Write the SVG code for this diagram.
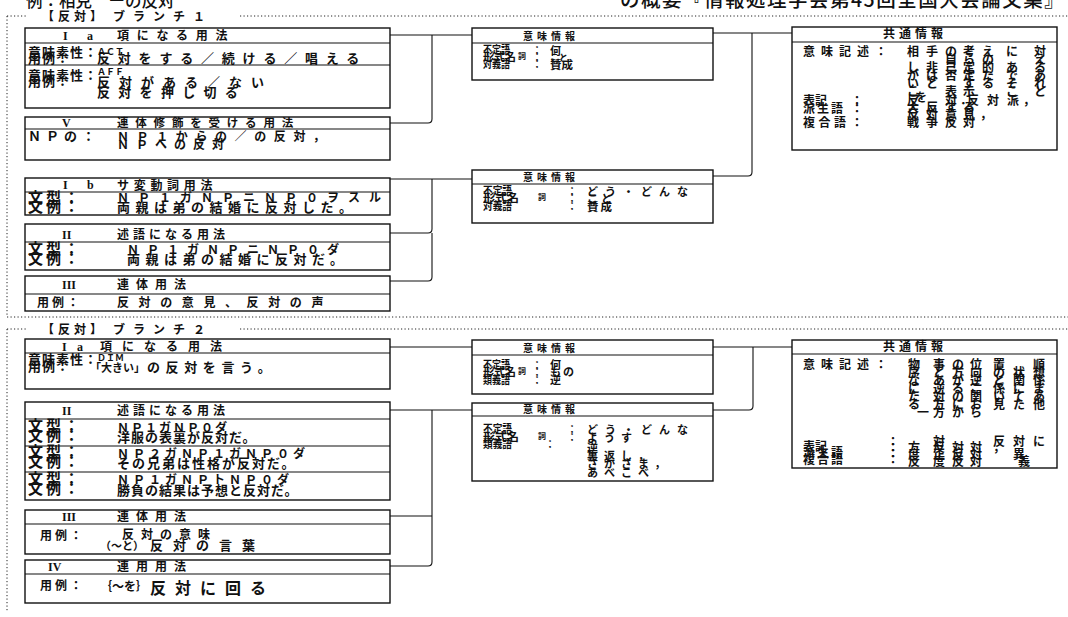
<svg xmlns="http://www.w3.org/2000/svg" width="1068" height="617" viewBox="0 0 1068 617">
<style>
.bx{fill:#fff;stroke:#111;stroke-width:1.4}
.dv{fill:none;stroke:#111;stroke-width:1.2}
.ln{fill:none;stroke:#111;stroke-width:1.1}
.dt{fill:none;stroke:#222;stroke-width:1;stroke-dasharray:1.2 2.3}
text{font-family:"Noto Sans CJK JP","Noto Sans",sans-serif;font-weight:700;fill:#111}
text.r{font-family:"Liberation Serif",serif}
text.h{font-weight:500}
</style>
<rect width="1068" height="617" fill="#fff"/>

<g id="header">
<text class="h" x="26" y="7" font-size="16.5">例：相克　ーの反対</text>
<text class="h" x="620" y="7" font-size="19.5" letter-spacing="1.5">の概要『情報処理学会第45回全国大会論文集』</text>
</g>

<g id="frames">
<path class="dt" d="M7,16 H27 M240,16 H1068 M7,16 V317 M7,317 H1068 M7,329 H27 M240,329 H1068 M7,329 V612"/>
<text x="42" y="21" font-size="12" letter-spacing="4">【反対】</text>
<text x="113" y="21" font-size="12" letter-spacing="8">ブランチ１</text>
<text x="42" y="334" font-size="12" letter-spacing="4">【反対】</text>
<text x="113" y="334" font-size="12" letter-spacing="8">ブランチ２</text>
</g>

<g id="connectors">
<path class="ln" d="M390,35 H472"/>
<path class="ln" d="M390,123 H428 Q432,123 432,119 V35"/>
<path class="ln" d="M390,179 H472"/>
<path class="ln" d="M390,233 H428 Q432,233 432,229 V179"/>
<path class="ln" d="M390,281 H428 Q432,281 432,277 V233"/>
<path class="ln" d="M713,33 H792"/>
<path class="ln" d="M713,176 H748 Q752,176 752,172 V33"/>
<path class="ln" d="M390,347 H472"/>
<path class="ln" d="M390,410 H472"/>
<path class="ln" d="M390,516 H432"/>
<path class="ln" d="M390,566 H428 Q432,566 432,562 V410"/>
<path class="ln" d="M713,347 H792"/>
<path class="ln" d="M713,410 H749 Q753,410 753,406 V347"/>
</g>

<!-- Branch 1 -->
<g id="b1-Ia">
<rect class="bx" x="25" y="28" width="365" height="80"/>
<path class="dv" d="M25,43 H390 M25,65 H390"/>
<text class="r" x="63" y="40" font-size="12">I</text>
<text class="r" x="87" y="40" font-size="12">a</text>
<text x="117" y="40" font-size="12" letter-spacing="7.7">項になる用法</text>
<text x="28" y="57" font-size="13" letter-spacing="1">意味素性：</text>
<text x="97" y="55" font-size="9">ＡＣＴ</text>
<text x="28" y="63" font-size="13" letter-spacing="1">用例：</text>
<text x="97" y="63" font-size="13" letter-spacing="7.8">反対をする／続ける／唱える</text>
<text x="28" y="80" font-size="13" letter-spacing="1">意味素性：</text>
<text x="97" y="75" font-size="9">ＡＦＦ</text>
<text x="28" y="86" font-size="13" letter-spacing="1">用例：</text>
<text x="97" y="87" font-size="13" letter-spacing="9">反対がある／ない</text>
<text x="97" y="97" font-size="13" letter-spacing="8.3">反対を押し切る</text>
</g>

<g id="b1-V">
<rect class="bx" x="25" y="117" width="365" height="43"/>
<path class="dv" d="M25,129 H390"/>
<text class="r" x="62" y="127" font-size="12">V</text>
<text x="117" y="127" font-size="11.5" letter-spacing="6.8">連体修飾を受ける用法</text>
<text x="28" y="141" font-size="13" letter-spacing="5">ＮＰの：</text>
<text x="117" y="141" font-size="12" letter-spacing="7.6">ＮＰ１からの／の反対，</text>
<text x="117" y="149" font-size="12" letter-spacing="7">ＮＰへの反対</text>
</g>

<g id="b1-Ib">
<rect class="bx" x="25" y="178" width="365" height="37"/>
<path class="dv" d="M25,192 H390"/>
<text class="r" x="63" y="189" font-size="12">I</text>
<text class="r" x="87" y="189" font-size="12">b</text>
<text x="117" y="190" font-size="12" letter-spacing="4.7">サ変動詞用法</text>
<text x="28" y="203" font-size="15" letter-spacing="3">文型：</text>
<text x="28" y="212" font-size="15" letter-spacing="3">文例：</text>
<text x="117" y="202" font-size="12" letter-spacing="9">ＮＰ１ガＮＰニＮＰ０ヲスル</text>
<text x="117" y="212" font-size="13" letter-spacing="5.5">両親は弟の結婚に反対した。</text>
</g>

<g id="b1-II">
<rect class="bx" x="25" y="224" width="365" height="46"/>
<path class="dv" d="M25,242 H390"/>
<text class="r" x="62" y="239" font-size="12">II</text>
<text x="117" y="239" font-size="12" letter-spacing="4">述語になる用法</text>
<text x="28" y="254" font-size="15" letter-spacing="3">文型：</text>
<text x="28" y="264" font-size="15" letter-spacing="3">文例：</text>
<text x="127" y="254" font-size="12" letter-spacing="8">ＮＰ１ガＮＰニＮＰ０ダ</text>
<text x="127" y="264" font-size="13" letter-spacing="5.5">両親は弟の結婚に反対だ。</text>
</g>

<g id="b1-III">
<rect class="bx" x="25" y="276" width="365" height="35"/>
<path class="dv" d="M25,294 H390"/>
<text class="r" x="62" y="289" font-size="12">III</text>
<text x="117" y="289" font-size="12" letter-spacing="7">連体用法</text>
<text x="37" y="307" font-size="12" letter-spacing="3">用例：</text>
<text x="117" y="307" font-size="12" letter-spacing="9.6">反対の意見、反対の声</text>
</g>

<g id="b1-MI1">
<rect class="bx" x="472" y="28" width="241" height="52"/>
<path class="dv" d="M472,43 H713"/>
<text x="523" y="40" font-size="10" letter-spacing="4">意味情報</text>
<text x="483" y="54" font-size="11" textLength="27" lengthAdjust="spacingAndGlyphs">不定語</text>
<text x="483" y="61" font-size="11" textLength="33" lengthAdjust="spacingAndGlyphs">形式名</text>
<text x="518" y="59" font-size="8">詞</text>
<text x="483" y="68" font-size="11" textLength="27" lengthAdjust="spacingAndGlyphs">対義語</text>
<text x="532" y="54" font-size="10">：</text>
<text x="532" y="61" font-size="10">：</text>
<text x="532" y="68" font-size="10">：</text>
<text x="550" y="55" font-size="11">何</text>
<text x="550" y="61" font-size="9">こと</text>
<text x="550" y="69" font-size="11.5">賛成</text>
</g>

<g id="b1-MI2">
<rect class="bx" x="472" y="170" width="241" height="53"/>
<path class="dv" d="M472,184 H713"/>
<text x="523" y="181" font-size="10" letter-spacing="4">意味情報</text>
<text x="483" y="195" font-size="11" textLength="29" lengthAdjust="spacingAndGlyphs">不定語</text>
<text x="483" y="202" font-size="11" textLength="36" lengthAdjust="spacingAndGlyphs">形式名</text>
<text x="538" y="200" font-size="8">詞</text>
<text x="483" y="210" font-size="11" textLength="29" lengthAdjust="spacingAndGlyphs">対義語</text>
<text x="567" y="195" font-size="10">：</text>
<text x="567" y="202" font-size="10">：</text>
<text x="567" y="210" font-size="10">：</text>
<text x="587" y="196" font-size="11" letter-spacing="7">どう・どんな</text>
<text x="587" y="203" font-size="11" letter-spacing="3">こと</text>
<text x="587" y="211" font-size="11.5" letter-spacing="2">賛成</text>
</g>

<g id="b1-K">
<rect class="bx" x="792" y="27" width="265" height="123"/>
<path class="dv" d="M792,42 H1057"/>
<text x="883" y="38" font-size="12" letter-spacing="4">共通情報</text>
<text x="803" y="56" font-size="12" letter-spacing="6">意味記述：</text>
<g font-size="12">
<text x="907 926 945 963 982 1006 1034" y="56">相手の考えに対</text>
<text x="945 963 982 1034" y="64">自らのえ</text>
<text x="907 926 945 963 982 1006 1034" y="72">し非己定的ある</text>
<text x="907 926 945 963 982 1006 1034" y="80">がは否定たであ</text>
<text x="907 926 963 982 1006 1034" y="88">いとするそれ</text>
<text x="907 945 963 1006 1034" y="96">こ表示こと</text>
<text x="915" y="102">を</text>
</g>
<text x="803" y="105" font-size="12">表記</text>
<text x="803" y="113" font-size="12" letter-spacing="2">派生語</text>
<text x="803" y="127" font-size="12" letter-spacing="3.5">複合語</text>
<text x="851" y="105" font-size="12">：</text>
<text x="851" y="113" font-size="12">：</text>
<text x="851" y="127" font-size="12">：</text>
<g font-size="12">
<text x="907 945 960 967 987 1007 1023" y="105">反対．反対派，</text>
<text x="907 926 945 963" y="112">大反する</text>
<text x="907 926 945 963 980" y="119">反対意見，</text>
<text x="907 926 945 963" y="127">戦争反対</text>
</g>
</g>

<!-- Branch 2 -->
<g id="b2-Ia">
<rect class="bx" x="25" y="339" width="365" height="50"/>
<path class="dv" d="M25,353 H390"/>
<text class="r" x="62" y="351" font-size="12">I</text>
<text class="r" x="77" y="351" font-size="12">a</text>
<text x="100" y="351" font-size="12" letter-spacing="10">項になる用法</text>
<text x="28" y="364" font-size="13" letter-spacing="1">意味素性：</text>
<text x="97" y="361" font-size="9">ＤＩＭ</text>
<text x="28" y="371" font-size="13" letter-spacing="1">用例：</text>
<text x="90" y="372" font-size="11">「大きい」</text>
<text x="147" y="372" font-size="13" letter-spacing="5.6">の反対を言う。</text>
</g>

<g id="b2-II">
<rect class="bx" x="25" y="402" width="365" height="98"/>
<path class="dv" d="M25,419 H390 M25,446 H390 M25,472 H390"/>
<text class="r" x="62" y="415" font-size="12">II</text>
<text x="117" y="415" font-size="12" letter-spacing="4">述語になる用法</text>
<text x="28" y="431" font-size="15" letter-spacing="3">文型：</text>
<text x="28" y="441" font-size="15" letter-spacing="3">文例：</text>
<text x="117" y="432" font-size="12" letter-spacing="2">ＮＰ１ガＮＰ０ダ</text>
<text x="117" y="442" font-size="13" letter-spacing="1">洋服の表裏が反対だ。</text>
<text x="28" y="457" font-size="15" letter-spacing="3">文型：</text>
<text x="28" y="467" font-size="15" letter-spacing="3">文例：</text>
<text x="117" y="458" font-size="12" letter-spacing="4">ＮＰ２ガＮＰ１ガＮＰ０ダ</text>
<text x="117" y="468" font-size="13" letter-spacing="2">その兄弟は性格が反対だ。</text>
<text x="28" y="484" font-size="15" letter-spacing="3">文型：</text>
<text x="28" y="494" font-size="15" letter-spacing="3">文例：</text>
<text x="117" y="484" font-size="12" letter-spacing="4">ＮＰ１ガＮＰトＮＰ０ダ</text>
<text x="117" y="495" font-size="13" letter-spacing="1">勝負の結果は予想と反対だ。</text>
</g>

<g id="b2-III">
<rect class="bx" x="25" y="510" width="365" height="44"/>
<path class="dv" d="M25,524 H390"/>
<text class="r" x="62" y="521" font-size="12">III</text>
<text x="117" y="521" font-size="12" letter-spacing="7">連体用法</text>
<text x="40" y="540" font-size="12" letter-spacing="3">用例：</text>
<text x="122" y="539" font-size="12" letter-spacing="7">反対の意味</text>
<text x="100" y="550" font-size="11">（～と）</text>
<text x="150" y="550" font-size="13" letter-spacing="10">反対の言葉</text>
</g>

<g id="b2-IV">
<rect class="bx" x="25" y="560" width="365" height="43"/>
<path class="dv" d="M25,574 H390"/>
<text class="r" x="48" y="571" font-size="12">IV</text>
<text x="117" y="571" font-size="12" letter-spacing="7">連用用法</text>
<text x="40" y="590" font-size="12" letter-spacing="3">用例：</text>
<text x="100" y="591" font-size="12">｛～を｝</text>
<text x="150" y="594" font-size="16" letter-spacing="9">反対に回る</text>
</g>

<g id="b2-MI1">
<rect class="bx" x="472" y="340" width="241" height="54"/>
<path class="dv" d="M472,355 H713"/>
<text x="523" y="352" font-size="10" letter-spacing="4">意味情報</text>
<text x="483" y="369" font-size="11" textLength="27" lengthAdjust="spacingAndGlyphs">不定語</text>
<text x="483" y="376" font-size="11" textLength="33" lengthAdjust="spacingAndGlyphs">形式名</text>
<text x="518" y="374" font-size="8">詞</text>
<text x="483" y="384" font-size="11" textLength="27" lengthAdjust="spacingAndGlyphs">類義語</text>
<text x="532" y="369" font-size="10">：</text>
<text x="532" y="376" font-size="10">：</text>
<text x="532" y="384" font-size="10">：</text>
<text x="550" y="369" font-size="11">何</text>
<text x="550 563" y="376" font-size="11">もの</text>
<text x="550" y="384" font-size="11">逆</text>
</g>

<g id="b2-MI2">
<rect class="bx" x="472" y="403" width="241" height="78"/>
<path class="dv" d="M472,416 H713"/>
<text x="523" y="413" font-size="10" letter-spacing="4">意味情報</text>
<text x="483" y="433" font-size="11" textLength="29" lengthAdjust="spacingAndGlyphs">不定語</text>
<text x="483" y="441" font-size="11" textLength="36" lengthAdjust="spacingAndGlyphs">形式名</text>
<text x="538" y="439" font-size="8">詞</text>
<text x="483" y="448" font-size="11" textLength="29" lengthAdjust="spacingAndGlyphs">類義語</text>
<text x="567" y="433" font-size="10">：</text>
<text x="567" y="441" font-size="10">：</text>
<text x="545" y="448" font-size="10">：</text>
<text x="587" y="434" font-size="11" letter-spacing="7">どう・どんな</text>
<text x="587" y="442" font-size="11" letter-spacing="6">ようす</text>
<text x="587" y="452" font-size="11">逆</text>
<text x="587" y="460" font-size="11" letter-spacing="6">裏返し，</text>
<text x="587" y="468" font-size="11" letter-spacing="6">さかさま，</text>
<text x="587" y="477" font-size="11" letter-spacing="6">あべこべ</text>
</g>

<g id="b2-K">
<rect class="bx" x="792" y="340" width="265" height="128"/>
<path class="dv" d="M792,354 H1057"/>
<text x="883" y="351" font-size="12" letter-spacing="4">共通情報</text>
<text x="803" y="369" font-size="12" letter-spacing="6">意味記述：</text>
<g font-size="12">
<text x="908 933 952 970 993 1033" y="369">物事の位置順</text>
<text x="908 933 952 970 993 1013 1033" y="377">序と方向の状想</text>
<text x="908 933 952 970 993 1013 1033" y="385">なあが逆と関係</text>
<text x="908 933 952 970 993 1013 1033" y="393">に逆るこ係にま</text>
<text x="908 933 952 970 993 1013 1033" y="401">た対の関いてあ</text>
<text x="908 933 952 970 993 1013 1033" y="409">る方にお見た他</text>
<text x="917 933 952 970" y="417">一方から</text>
</g>
<text x="803" y="451" font-size="12">表記</text>
<text x="803" y="457" font-size="12" letter-spacing="2">派生語</text>
<text x="803" y="464" font-size="12" letter-spacing="2">複合語</text>
<text x="887" y="446" font-size="12">：</text>
<text x="887" y="452" font-size="12">：</text>
<text x="887" y="458" font-size="12">：</text>
<text x="887" y="464" font-size="12">：</text>
<g font-size="12">
<text x="933 993 1013 1033" y="446">対反対に</text>
<text x="908 933 952 970 993" y="452">方反対対，</text>
<text x="908 933 952 970 1013" y="459">度正反対異</text>
<text x="908 933 952 970 1018" y="466">反度反対義</text>
</g>
</g>
</svg>
